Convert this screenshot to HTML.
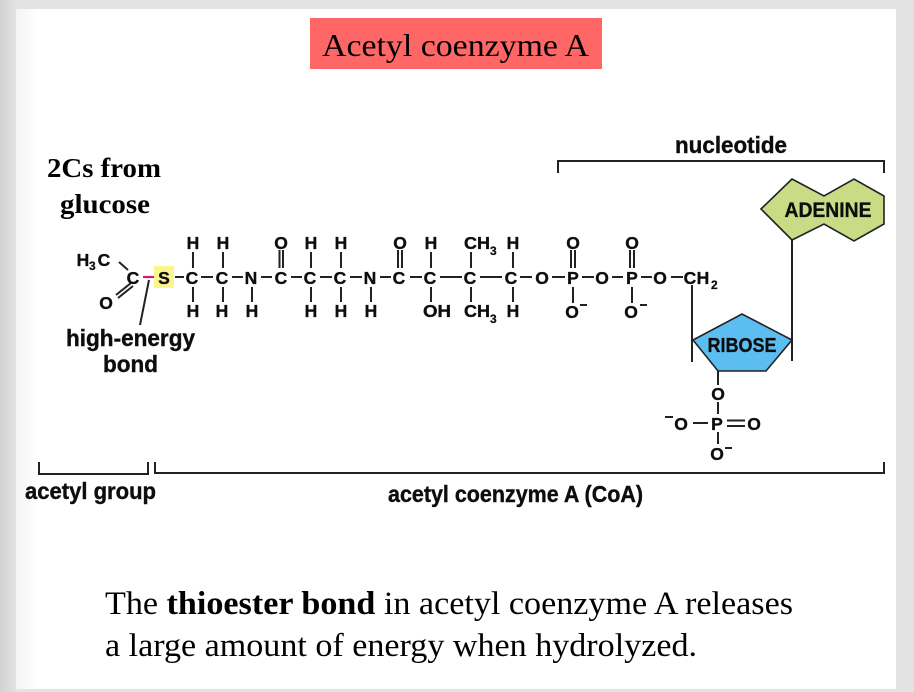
<!DOCTYPE html>
<html><head><meta charset="utf-8">
<style>
html,body{margin:0;padding:0;background:#e3e3e3}
svg{display:block}
.a{font:bold 17.5px "Liberation Sans",sans-serif;fill:#111;stroke:#111;stroke-width:.35;text-anchor:middle}
.s{font:bold 12px "Liberation Sans",sans-serif;fill:#111;stroke:#111;stroke-width:.25}
.m{font:bold 23px "Liberation Sans",sans-serif;fill:#111;stroke:#111;stroke-width:.4}
.b{stroke:#222;stroke-width:2;fill:none}
.t{font-family:"Liberation Serif",serif;fill:#000}
</style></head><body>
<svg width="914" height="692" viewBox="0 0 914 692" xmlns="http://www.w3.org/2000/svg">
<defs><linearGradient id="g" x1="0" x2="1" y1="0" y2="0"><stop offset="0" stop-color="#d2d2d2"/><stop offset="1" stop-color="#e3e3e3"/></linearGradient>
<linearGradient id="w" x1="0" x2="1" y1="0" y2="0"><stop offset="0" stop-color="#f4f4f4"/><stop offset="1" stop-color="#fff"/></linearGradient>
<filter id="soft" filterUnits="userSpaceOnUse" x="0" y="0" width="914" height="692"><feGaussianBlur stdDeviation="0.35"/></filter></defs>
<rect width="914" height="692" fill="#e3e3e3"/>
<rect width="16" height="692" fill="url(#g)"/>
<rect x="16" y="9" width="880" height="680" fill="#fff"/>
<rect x="16" y="9" width="22" height="680" fill="url(#w)"/>

<rect x="310" y="18" width="292" height="51" fill="#ff6666"/>
<text class="t" x="322" y="56" font-size="32" textLength="267" lengthAdjust="spacingAndGlyphs">Acetyl coenzyme A</text>
<text class="t" x="47" y="177" font-size="27" font-weight="bold" textLength="114" lengthAdjust="spacingAndGlyphs">2Cs from</text>
<text class="t" x="60" y="213" font-size="27" font-weight="bold" textLength="90" lengthAdjust="spacingAndGlyphs">glucose</text>
<text class="t" x="105" y="614" font-size="33" textLength="688" lengthAdjust="spacingAndGlyphs">The <tspan font-weight="bold">thioester bond</tspan> in acetyl coenzyme A releases</text>
<text class="t" x="105" y="656" font-size="33" textLength="592" lengthAdjust="spacingAndGlyphs">a large amount of energy when hydrolyzed.</text>

<g filter="url(#soft)">
<!-- brackets -->
<path class="b" d="M558 173V161H884V173"/>
<path class="b" d="M39 462V474H148V462"/>
<path class="b" d="M155 462V473H884V462"/>
<text class="m" x="675" y="153" textLength="112" lengthAdjust="spacingAndGlyphs">nucleotide</text>
<text class="m" x="25" y="499" textLength="131" lengthAdjust="spacingAndGlyphs">acetyl group</text>
<text class="m" x="388" y="502" textLength="255" lengthAdjust="spacingAndGlyphs">acetyl coenzyme A (CoA)</text>

<!-- shapes -->
<polygon points="761,209 792,179 824,196 854,179 884,196 884,224 854,241 824,224 792,240" fill="#c9dc85" stroke="#222" stroke-width="1.6"/>
<polygon points="693,340 742,314 792,340 766,371 718,371" fill="#5bbdf0" stroke="#222" stroke-width="1.6"/>
<text class="a" x="828" y="217" style="font-size:21.5px" textLength="87" lengthAdjust="spacingAndGlyphs">ADENINE</text>
<text class="a" x="742" y="352" style="font-size:20.5px" textLength="69" lengthAdjust="spacingAndGlyphs">RIBOSE</text>

<!-- yellow S -->
<rect x="154" y="266" width="20" height="22" fill="#fbf58c"/>

<!-- bonds -->
<path class="b" d="
M119 262L128 270
M116 295L131 283 M118 298L133 286
M175 277H184 M201 277H213 M232 277H243 M261 277H272 M291 277H302 M320 277H332 M350 277H362 M380 277H391 M410 277H422 M440 277H462 M480 277H502 M520 277H532 M552 277H565 M582 277H594 M612 277H623 M641 277H652 M671 277H683
M193 252V268 M223 252V268 M311 252V268 M341 252V268 M431 252V268 M471 252V268 M513 252V268
M193 287V302 M223 287V302 M252 287V302 M311 287V302 M341 287V302 M371 287V302 M431 287V302 M471 287V302 M513 287V302
M279.500 250V268 M283 250V268 M398 250V268 M402 250V268 M571 250V268 M575 250V268 M630 250V268 M634 250V268
M573 287V303 M632 287V303
M692 285V362 M792 240V361
M718 371V385 M718 402V414 M718 432V444
M693 423H708 M727 420.500H745 M727 426H745
"/>
<path d="M143 277H154" stroke="#d6177a" stroke-width="2.2"/>
<path class="b" d="M149 280L140 325"/>

<!-- atoms -->
<text class="a" x="83" y="266">H</text><text class="s" x="89" y="270">3</text><text class="a" x="104" y="266">C</text>
<text class="a" x="133" y="284">C</text>
<text class="a" x="106" y="309">O</text>
<text class="a" x="164" y="284">S</text>
<text class="a" x="192" y="284">C</text><text class="a" x="222" y="284">C</text><text class="a" x="251" y="284">N</text><text class="a" x="281" y="284">C</text><text class="a" x="310" y="284">C</text><text class="a" x="340" y="284">C</text><text class="a" x="370" y="284">N</text><text class="a" x="399" y="284">C</text><text class="a" x="430" y="284">C</text><text class="a" x="470" y="284">C</text><text class="a" x="511" y="284">C</text><text class="a" x="542" y="284">O</text><text class="a" x="573" y="284">P</text><text class="a" x="602" y="284">O</text><text class="a" x="632" y="284">P</text><text class="a" x="660" y="284">O</text>
<text class="a" x="690" y="284">C</text><text class="a" x="703" y="284">H</text><text class="s" x="711" y="289">2</text>
<!-- top -->
<text class="a" x="193" y="249">H</text><text class="a" x="223" y="249">H</text><text class="a" x="281" y="249">O</text><text class="a" x="311" y="249">H</text><text class="a" x="341" y="249">H</text><text class="a" x="400" y="249">O</text><text class="a" x="431" y="249">H</text><text class="a" x="477" y="249" textLength="26" lengthAdjust="spacingAndGlyphs">CH</text><text class="s" x="490" y="255">3</text><text class="a" x="513" y="249">H</text><text class="a" x="573" y="249">O</text><text class="a" x="632" y="249">O</text>
<!-- bottom -->
<text class="a" x="193" y="317">H</text><text class="a" x="222" y="317">H</text><text class="a" x="252" y="317">H</text><text class="a" x="311" y="317">H</text><text class="a" x="341" y="317">H</text><text class="a" x="371" y="317">H</text><text class="a" x="437" y="317" textLength="28" lengthAdjust="spacingAndGlyphs">OH</text><text class="a" x="477" y="317" textLength="26" lengthAdjust="spacingAndGlyphs">CH</text><text class="s" x="490" y="323">3</text><text class="a" x="513" y="317">H</text>
<text class="a" x="572" y="318">O</text><text class="a" x="631" y="318">O</text>
<text class="a" x="718" y="400">O</text><text class="a" x="717" y="430">P</text><text class="a" x="681" y="430">O</text><text class="a" x="754" y="430">O</text><text class="a" x="717" y="460">O</text>
<path class="b" d="M580 305H587 M640 305H647 M725 448H732 M665 417H673"/>

<text class="m" x="66" y="346" textLength="129" lengthAdjust="spacingAndGlyphs">high-energy</text>
<text class="m" x="103" y="372" textLength="55" lengthAdjust="spacingAndGlyphs">bond</text>
</g>
</svg>
</body></html>
